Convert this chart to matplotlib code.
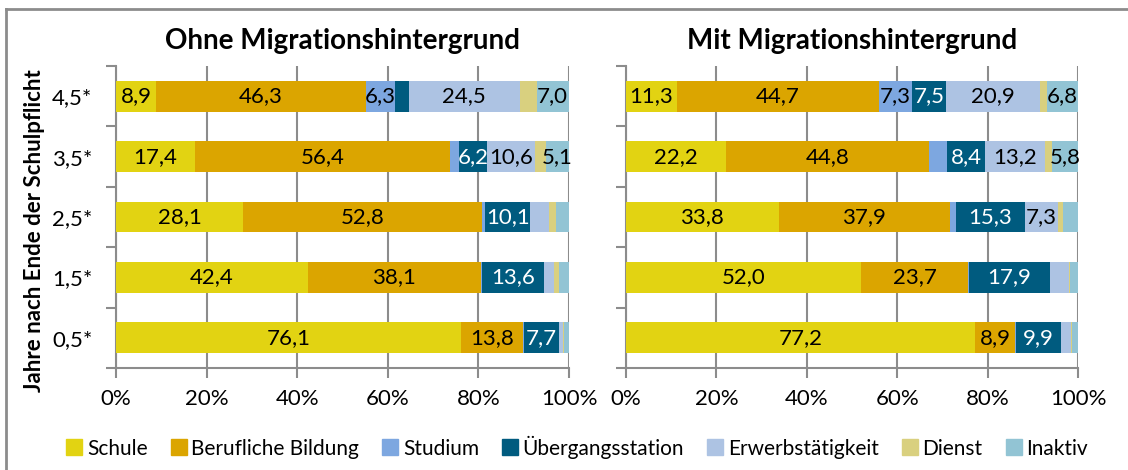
import numpy as np
import matplotlib
matplotlib.use("Agg")
import matplotlib.pyplot as plt
from matplotlib.lines import Line2D

plt.rcParams['font.family'] = ['Lato', 'DejaVu Sans']

# --- Data ---
years = ["0,5*", "1,5*", "2,5*", "3,5*", "4,5*"]
categories = ["Schule", "Berufliche Bildung", "Studium", "Übergangsstation",
              "Erwerbstätigkeit", "Dienst", "Inaktiv"]
colors = ["#E2D312", "#DBA500", "#7DA7E0", "#005B7F", "#ADC3E3", "#D9D07F", "#92C4D4"]
label_colors = ["black", "black", "black", "white", "black", "black", "black"]

# rows: 0,5 / 1,5 / 2,5 / 3,5 / 4,5
ohne = {
    "Schule":             [76.1, 42.4, 28.1, 17.4, 8.9],
    "Berufliche Bildung": [13.8, 38.1, 52.8, 56.4, 46.3],
    "Studium":            [0.2, 0.3, 0.5, 2.0, 6.3],
    "Übergangsstation":   [7.7, 13.6, 10.1, 6.2, 3.1],
    "Erwerbstätigkeit":   [0.8, 2.2, 4.0, 10.6, 24.5],
    "Dienst":             [0.3, 1.3, 1.7, 2.3, 3.8],
    "Inaktiv":            [1.1, 2.1, 2.8, 5.1, 7.0],
}
mit = {
    "Schule":             [77.2, 52.0, 33.8, 22.2, 11.3],
    "Berufliche Bildung": [8.9, 23.7, 37.9, 44.8, 44.7],
    "Studium":            [0.2, 0.2, 1.3, 4.0, 7.3],
    "Übergangsstation":   [9.9, 17.9, 15.3, 8.4, 7.5],
    "Erwerbstätigkeit":   [2.2, 4.2, 7.3, 13.2, 20.9],
    "Dienst":             [0.3, 0.3, 1.0, 1.6, 1.5],
    "Inaktiv":            [1.3, 1.7, 3.4, 5.8, 6.8],
}
titles = ["Ohne Migrationshintergrund", "Mit Migrationshintergrund"]

# --- Figure ---
W, H = 1128, 470
fig = plt.figure(figsize=(W / 100, H / 100), dpi=100)

def px_axes(x0, y0, x1, y1):
    return fig.add_axes([x0 / W, 1 - y1 / H, (x1 - x0) / W, (y1 - y0) / H])

ax_l = px_axes(116, 66, 569, 368)
ax_r = px_axes(626, 66, 1078, 368)

grid_c = "#8C8C8C"
ypos = np.arange(len(years))

for ax, data, title, show_labels in [(ax_l, ohne, titles[0], True), (ax_r, mit, titles[1], False)]:
    left = np.zeros(len(years))
    for cat, col, lc in zip(categories, colors, label_colors):
        vals = np.array(data[cat])
        ax.barh(ypos, vals, left=left, height=0.51, color=col, zorder=3)
        for y, v, l in zip(ypos, vals, left):
            if v >= 5:
                ax.text(l + v / 2, y, f"{v:.1f}".replace(".", ","), ha="center", va="center",
                        fontsize=16, color=lc, zorder=4)
        left += vals

    ax.set_xlim(0, 100)
    ax.set_ylim(-0.5, len(years) - 0.5)
    ax.set_xticks(np.arange(0, 101, 20))
    ax.set_xticklabels([f"{t}%" for t in range(0, 101, 20)], fontsize=16)
    ax.xaxis.grid(True, color=grid_c, linewidth=1.5, zorder=0)
    ax.tick_params(axis="x", length=7, width=1.5, color=grid_c, pad=8)

    ax.set_yticks(np.arange(-0.5, len(years)), minor=False)
    ax.set_yticklabels([])
    ax.set_yticks(ypos, minor=True)
    ax.set_yticklabels(years if show_labels else [], minor=True, fontsize=16)
    ax.tick_params(axis="y", which="major", length=7, width=1.5, color=grid_c)
    ax.tick_params(axis="y", which="minor", length=0, pad=17)

    for s in ["top", "right"]:
        ax.spines[s].set_visible(False)
    for s in ["left", "bottom"]:
        ax.spines[s].set_color(grid_c)
        ax.spines[s].set_linewidth(1.5)
    ax.set_title(title, fontsize=20, fontweight="bold", pad=12)

fig.text(35 / W, 1 - 231 / H, "Jahre nach Ende der Schulpflicht", rotation=90,
         ha="center", va="center", fontsize=16, fontweight="bold")

# legend
handles = [Line2D([], [], marker="s", linestyle="none", markersize=12, color=c) for c in colors]
fig.legend(handles, categories, loc="center", bbox_to_anchor=(576 / W, 1 - 447 / H),
           ncol=len(categories), frameon=False, fontsize=15, handletextpad=0.1,
           columnspacing=1.0, handlelength=1.0)

# outer frame
fig.add_artist(Line2D([6 / W, 6 / W], [0, 1 - 9 / H], transform=fig.transFigure, color=grid_c, linewidth=2))
fig.add_artist(Line2D([6 / W, 1], [1 - 9 / H, 1 - 9 / H], transform=fig.transFigure, color=grid_c, linewidth=2))

fig.savefig("out.png", dpi=100)
